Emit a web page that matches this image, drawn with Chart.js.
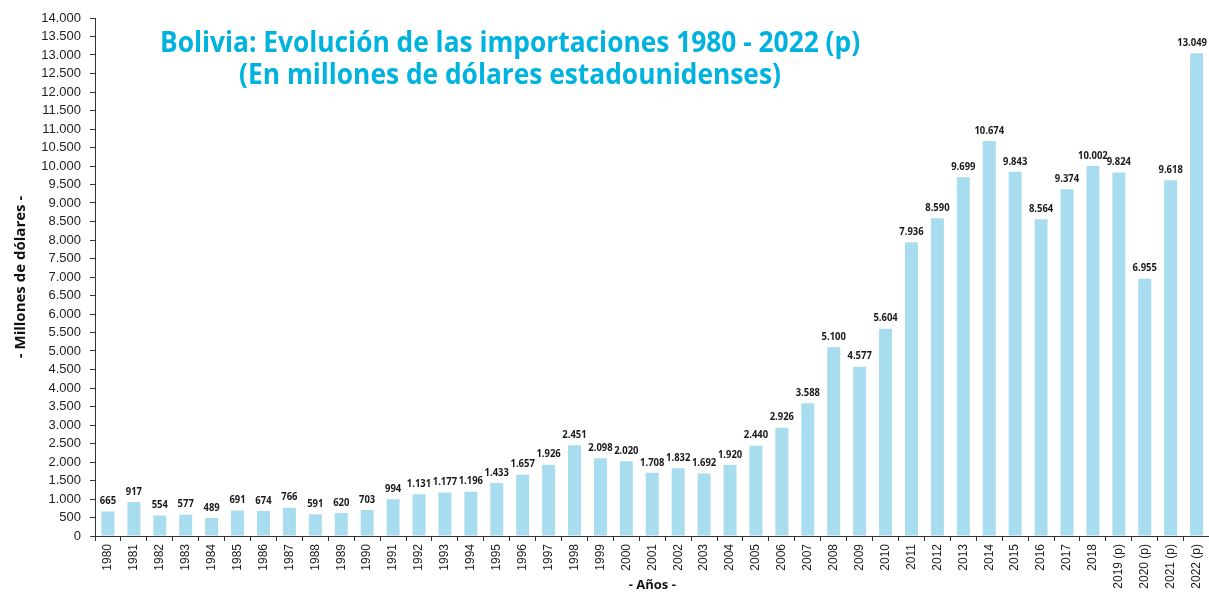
<!DOCTYPE html>
<html>
<head>
<meta charset="utf-8">
<script src="https://cdn.jsdelivr.net/npm/chart.js@4/dist/chart.umd.min.js"></script>
<style>
  html, body { margin: 0; padding: 0; background: #fff; overflow: hidden; }
  #wrap { position: relative; width: 1209px; height: 593px; overflow: hidden; }
</style>
</head>
<body>
<div id="wrap"><canvas id="importChart" width="1214" height="593"></canvas></div>
<script>
// Years (p = preliminary)
const years = ['1980','1981','1982','1983','1984','1985','1986','1987','1988','1989',
  '1990','1991','1992','1993','1994','1995','1996','1997','1998','1999',
  '2000','2001','2002','2003','2004','2005','2006','2007','2008','2009',
  '2010','2011','2012','2013','2014','2015','2016','2017','2018',
  '2019 (p)','2020 (p)','2021 (p)','2022 (p)'];

// Imports, millions of US dollars
const imports = [665, 917, 554, 577, 489, 691, 674, 766, 591, 620,
  703, 994, 1131, 1177, 1196, 1433, 1657, 1926, 2451, 2098,
  2020, 1708, 1832, 1692, 1920, 2440, 2926, 3588, 5100, 4577,
  5604, 7936, 8590, 9699, 10674, 9843, 8564, 9374, 10002,
  9824, 6955, 9618, 13049];

const titleLines = ['Bolivia: Evolución de las importaciones 1980 - 2022 (p)',
  '(En millones de dólares estadounidenses)'];

// 13049 -> "13.049"
function fmt(v) {
  return String(v).replace(/\B(?=(\d{3})+(?!\d))/g, '.');
}

// Value labels above each bar (slightly condensed, like the original)
const valueLabels = {
  id: 'valueLabels',
  afterDatasetsDraw(chart) {
    const ctx = chart.ctx;
    const meta = chart.getDatasetMeta(0);
    const sx = 0.9;
    ctx.save();
    ctx.font = 'bold 10.5px "Open Sans", sans-serif';
    ctx.fillStyle = '#1a1a1a';
    ctx.textAlign = 'center';
    ctx.textBaseline = 'bottom';
    meta.data.forEach(function(bar, i) {
      const txt = fmt(imports[i]);
      const half = ctx.measureText(txt).width * sx / 2;
      const x = Math.min(bar.x, 1207 - half); // keep last label inside the window
      ctx.save();
      ctx.translate(x, bar.y - 5);
      ctx.scale(sx, 1);
      ctx.fillText(txt, 0, 0);
      ctx.restore();
    });
    ctx.restore();
  }
};

// Title drawn over the plot area (slightly condensed)
const overlayTitle = {
  id: 'overlayTitle',
  afterDraw(chart) {
    const ctx = chart.ctx;
    ctx.save();
    ctx.font = 'bold 28px "Open Sans", sans-serif';
    ctx.fillStyle = '#00B3DF';
    ctx.textAlign = 'center';
    ctx.textBaseline = 'middle';
    ctx.translate(510, 0);
    ctx.scale(0.94, 1);
    ctx.fillText(titleLines[0], 0, 44);
    ctx.fillText(titleLines[1], 0, 76);
    ctx.restore();
  }
};

const ctx = document.getElementById('importChart').getContext('2d');
const importChart = new Chart(ctx, {
  type: 'bar',
  data: {
    labels: years,
    datasets: [{
      label: 'Importaciones',
      data: imports,
      backgroundColor: '#A8DCEF',
      borderWidth: 0,
      categoryPercentage: 1.0,
      barPercentage: 0.5
    }]
  },
  options: {
    responsive: false,
    animation: false,
    layout: { padding: { top: 18, right: 1, bottom: 0, left: 12 } },
    plugins: {
      legend: { display: false },
      tooltip: { enabled: false }
    },
    scales: {
      y: {
        min: 0,
        max: 14000,
        afterFit(scale) { scale.width = 83; },
        ticks: {
          stepSize: 500,
          autoSkip: false,
          padding: 9,
          color: '#222',
          font: { family: '"Liberation Sans", Arial, sans-serif', size: 13 },
          callback: function(v) { return fmt(v); }
        },
        grid: { drawOnChartArea: false, tickLength: 5, color: '#333' },
        border: { color: '#333', width: 1 },
        title: {
          display: true,
          text: '- Millones de dólares -',
          color: '#111',
          font: { family: '"Open Sans", sans-serif', size: 15, weight: 'bold' },
          padding: { top: 0, bottom: 0 }
        }
      },
      x: {
        afterFit(scale) { scale.height = 57; },
        ticks: {
          minRotation: 90,
          maxRotation: 90,
          autoSkip: false,
          padding: 3,
          color: '#222',
          font: { family: '"Liberation Sans", Arial, sans-serif', size: 12 }
        },
        grid: { drawOnChartArea: false, tickLength: 5, color: '#333', offset: true },
        border: { color: '#333', width: 1 },
        title: {
          display: true,
          text: '- Años -',
          color: '#111',
          font: { family: '"Open Sans", sans-serif', size: 13, weight: 'bold' },
          padding: { top: 0, bottom: 0 }
        }
      }
    }
  },
  plugins: [valueLabels, overlayTitle]
});
</script>
</body>
</html>
